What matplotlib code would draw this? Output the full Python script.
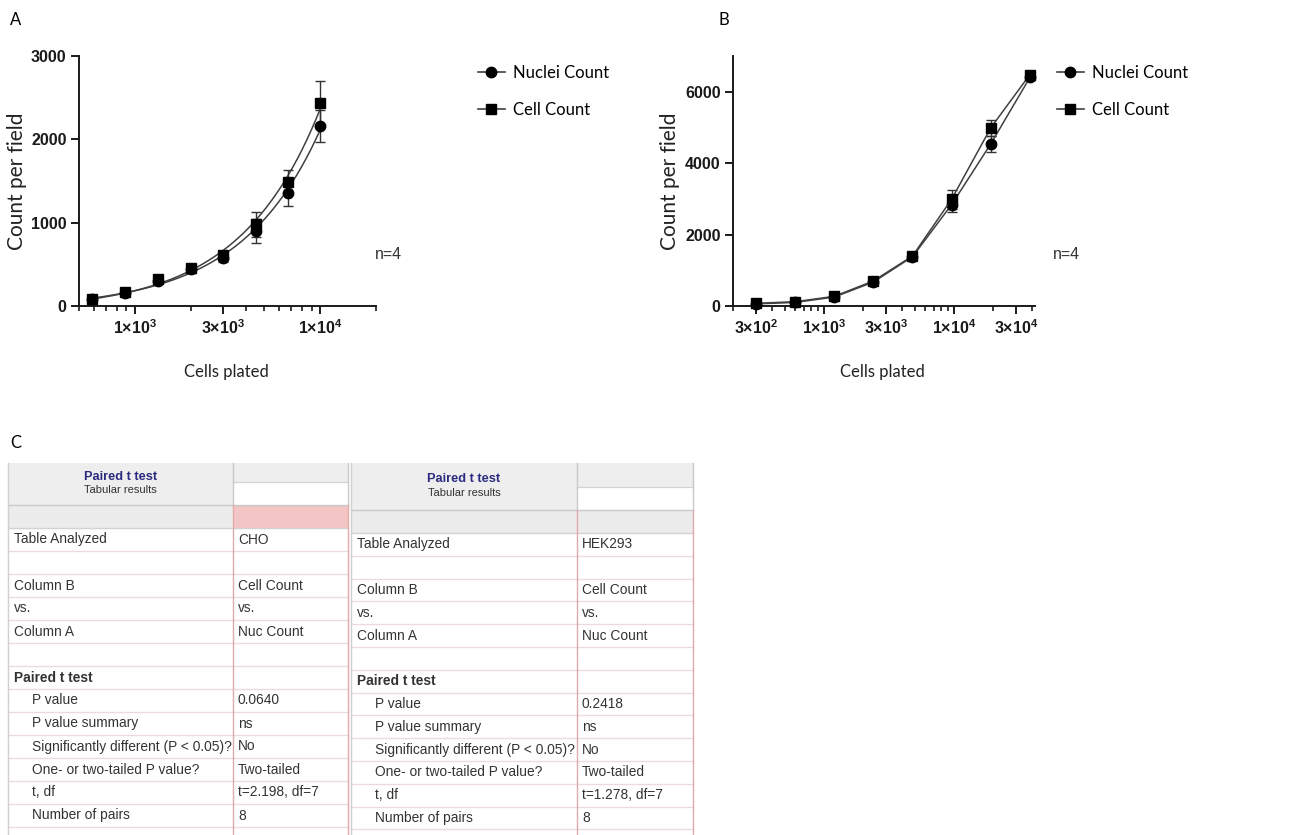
import matplotlib
matplotlib.use('Agg')
import matplotlib.pyplot as plt
import matplotlib.ticker as mticker
from matplotlib.lines import Line2D
from matplotlib.patches import Rectangle
import numpy as np

plt.rcParams['font.family'] = ['Lato', 'DejaVu Sans']
plt.rcParams['mathtext.fontset'] = 'custom'
plt.rcParams['mathtext.rm'] = 'Liberation Sans'
plt.rcParams['mathtext.bf'] = 'Liberation Sans:bold'

# Panel A (CHO): cells plated vs count per field, mean and error
cho_cells = [590, 890, 1330, 2000, 3000, 4500, 6700, 10000]
cho_nuc = [80, 160, 300, 440, 575, 900, 1355, 2160]
cho_nuc_err = [25, 30, 35, 40, 50, 145, 150, 190]
cho_cell = [90, 170, 320, 460, 610, 980, 1490, 2440]
cho_cell_err = [25, 30, 35, 40, 50, 150, 140, 260]
cho_xticks = [1e3, 3e3, 1e4]
cho_yticks = [0, 1000, 2000, 3000]

# Panel B (HEK293)
hek_cells = [300, 600, 1200, 2400, 4800, 9600, 19200, 38400]
hek_nuc = [60, 100, 250, 670, 1380, 2840, 4540, 6400]
hek_nuc_err = [20, 25, 40, 60, 80, 220, 230, 80]
hek_cell = [75, 120, 270, 700, 1400, 2990, 4990, 6480]
hek_cell_err = [20, 25, 40, 60, 80, 270, 230, 80]
hek_xticks = [3e2, 1e3, 3e3, 1e4, 3e4]
hek_yticks = [0, 2000, 4000, 6000]

# Panel C: paired t test tables
row_labels = ['Table Analyzed', '', 'Column B', 'vs.', 'Column A', '',
              'Paired t test', 'P value', 'P value summary',
              'Significantly different (P < 0.05)?',
              'One- or two-tailed P value?', 't, df', 'Number of pairs']
cho_values = ['CHO', '', 'Cell Count', 'vs.', 'Nuc Count', '', '',
              '0.0640', 'ns', 'No', 'Two-tailed', 't=2.198, df=7', '8']
hek_values = ['HEK293', '', 'Cell Count', 'vs.', 'Nuc Count', '', '',
              '0.2418', 'ns', 'No', 'Two-tailed', 't=1.278, df=7', '8']

LINE = '#404040'
TICKFONT = ['Liberation Sans Narrow', 'Liberation Sans', 'DejaVu Sans']


def sci_label(v):
    e = int(np.floor(np.log10(v) + 1e-9))
    m = int(round(v / 10 ** e))
    return r'$\mathbf{%d{\times}10^{%d}}$' % (m, e)


def draw_panel(ax, x, nuc, nuc_err, cell, cell_err, fit, xlim, ylim,
               xticks, yticks, legend_x, note_x):
    x = np.array(x, dtype=float)
    for y, err, m in [(nuc, nuc_err, 'o'), (cell, cell_err, 's')]:
        ax.errorbar(x, y, yerr=err, fmt='none', ecolor='#333333',
                    elinewidth=1.0, capsize=3.5, capthick=1.0, clip_on=False,
                    zorder=3)
        if fit:
            b, a = np.polyfit(x, y, 1)
            xx = np.geomspace(x[0], x[-1], 200)
            ax.plot(xx, a + b * xx, color=LINE, lw=1.1, zorder=2)
            ax.plot(x, y, ls='none', marker=m, ms=7.5, color='black',
                    clip_on=False, zorder=4)
        else:
            ax.plot(x, y, color=LINE, lw=1.1, marker=m, ms=7.5, mfc='black',
                    mec='black', clip_on=False, zorder=4)
    ax.set_xscale('log')
    ax.set_xlim(*xlim)
    ax.set_ylim(*ylim)
    ax.xaxis.set_major_locator(mticker.FixedLocator(xticks))
    ax.xaxis.set_major_formatter(mticker.FixedFormatter([sci_label(v) for v in xticks]))
    ax.xaxis.set_minor_locator(mticker.LogLocator(base=10, subs=np.arange(2, 10)))
    ax.xaxis.set_minor_formatter(mticker.NullFormatter())
    ax.yaxis.set_major_locator(mticker.FixedLocator(yticks))
    ax.set_yticklabels([str(v) for v in yticks], fontweight='bold',
                       family=TICKFONT, fontsize=11.5, color='#1a1a1a')
    for lab in ax.get_xticklabels():
        lab.set_fontsize(11.5)
        lab.set_color('#1a1a1a')
    ax.tick_params(axis='both', which='major', direction='out', length=6,
                   width=1.4, color='#1a1a1a', pad=3)
    ax.tick_params(axis='x', which='minor', direction='out', length=3.5,
                   width=1.2, color='#1a1a1a')
    for s in ['top', 'right']:
        ax.spines[s].set_visible(False)
    for s in ['left', 'bottom']:
        ax.spines[s].set_linewidth(1.4)
        ax.spines[s].set_color('#1a1a1a')
    ax.set_ylabel('Count per field', fontsize=15, color='#222222')
    ax.set_xlabel('Cells plated', fontsize=12, color='#222222')
    ax.yaxis.set_label_coords(-0.175, 0.5)
    ax.xaxis.set_label_coords(0.495, -0.23)
    handles = [Line2D([], [], color=LINE, lw=1.2, marker='o', ms=7.5,
                      mfc='black', mec='black', label='Nuclei Count'),
               Line2D([], [], color=LINE, lw=1.2, marker='s', ms=7.5,
                      mfc='black', mec='black', label='Cell Count')]
    ax.legend(handles=handles, loc='upper left', bbox_to_anchor=(legend_x, 0.963),
              frameon=False, fontsize=12, borderpad=0, borderaxespad=0,
              handlelength=1.6, handletextpad=0.5, labelspacing=1.25)
    ax.text(note_x, 0.205, 'n=4', transform=ax.transAxes, fontsize=11.5,
            family=['Liberation Sans Narrow', 'Liberation Sans'],
            color='#333333', va='center', ha='left')


def draw_table(ax, x0, xdiv, x1, top, split, head_bot, grey_bot, row_h,
               values, right_pink, tx, tx_in, vx):
    grey_line = '#c9c9c9'
    pink_line = '#e4a9a9'
    row_line = '#eadcdc'
    # header
    ax.add_patch(Rectangle((x0, top), xdiv - x0, head_bot - top, fc='#eeeeee', ec='none'))
    ax.add_patch(Rectangle((xdiv, top), x1 - xdiv, split - top, fc='#eeeeee', ec='none'))
    ax.add_patch(Rectangle((xdiv, split), x1 - xdiv, head_bot - split, fc='white', ec='none'))
    ax.add_patch(Rectangle((x0, head_bot), xdiv - x0, grey_bot - head_bot, fc='#ececec', ec='none'))
    ax.add_patch(Rectangle((xdiv, head_bot), x1 - xdiv, grey_bot - head_bot,
                           fc='#f3c5c5' if right_pink else '#ececec', ec='none'))
    ax.plot([xdiv, x1], [split, split], color='#d4d4d4', lw=0.9)
    ax.plot([x0, x1], [head_bot, head_bot], color=grey_line, lw=1.0)
    ax.plot([x0, x1], [grey_bot, grey_bot], color='#d6d0d0', lw=1.0)
    ax.text((x0 + xdiv) / 2, top + (head_bot - top) * 0.33, 'Paired t test',
            family='Liberation Sans', fontweight='bold', fontsize=9.2,
            color='#2b2b80', ha='center', va='center')
    ax.text((x0 + xdiv) / 2, top + (head_bot - top) * 0.64, 'Tabular results',
            family='Liberation Sans', fontsize=8, color='#333333',
            ha='center', va='center')
    for i, (lab, val) in enumerate(zip(row_labels, values)):
        y0 = grey_bot + i * row_h
        ax.plot([x0, x1], [y0 + row_h, y0 + row_h], color=row_line, lw=1.0)
        yc = y0 + row_h / 2
        bold = lab == 'Paired t test'
        ax.text(tx_in if i > 6 else tx, yc, lab, family='Liberation Sans',
                fontsize=9.9, fontweight='bold' if bold else 'normal',
                color='#333333', va='center', ha='left')
        ax.text(vx, yc, val, family='Liberation Sans', fontsize=9.9,
                color='#333333', va='center', ha='left')
    bottom = 835
    ax.plot([xdiv, xdiv], [top, head_bot], color=grey_line, lw=1.0)
    ax.plot([x1, x1], [top, head_bot], color=grey_line, lw=1.0)
    ax.plot([xdiv, xdiv], [head_bot, bottom], color=pink_line, lw=1.0)
    ax.plot([x1, x1], [head_bot, bottom], color=pink_line, lw=1.0)
    ax.plot([x0, x0], [top, bottom], color='#d0d0d0', lw=1.0)


def main():
    fig = plt.figure(figsize=(13, 8.35), dpi=100)

    tax = fig.add_axes([0, 0, 1, 1])
    tax.set_xlim(0, 1300)
    tax.set_ylim(835, 0)
    tax.axis('off')
    draw_table(tax, 8, 233, 348, 463, 482, 505, 528, 23.0, cho_values, True,
               14, 32, 238)
    draw_table(tax, 351, 577, 693, 463, 487, 510, 533, 22.8, hek_values, False,
               357, 375, 582)

    ax_a = fig.add_axes([79 / 1300, 1 - 306 / 835, 297 / 1300, 250 / 835])
    draw_panel(ax_a, cho_cells, cho_nuc, cho_nuc_err, cho_cell, cho_cell_err,
               True, (500, 20000), (0, 3000), cho_xticks, cho_yticks, 1.343, 0.997)

    ax_b = fig.add_axes([733 / 1300, 1 - 306 / 835, 302 / 1300, 250 / 835])
    draw_panel(ax_b, hek_cells, hek_nuc, hek_nuc_err, hek_cell, hek_cell_err,
               False, (200, 42000), (0, 7000), hek_xticks, hek_yticks, 1.073, 1.06)

    fig.text(10 / 1300, 1 - 20 / 835, 'A', fontsize=12, va='center', ha='left')
    fig.text(718 / 1300, 1 - 20 / 835, 'B', fontsize=12, va='center', ha='left')
    fig.text(10 / 1300, 1 - 443 / 835, 'C', fontsize=12, va='center', ha='left')

    fig.savefig('out.png', dpi=100, facecolor='white')


if __name__ == "__main__":
    main()
